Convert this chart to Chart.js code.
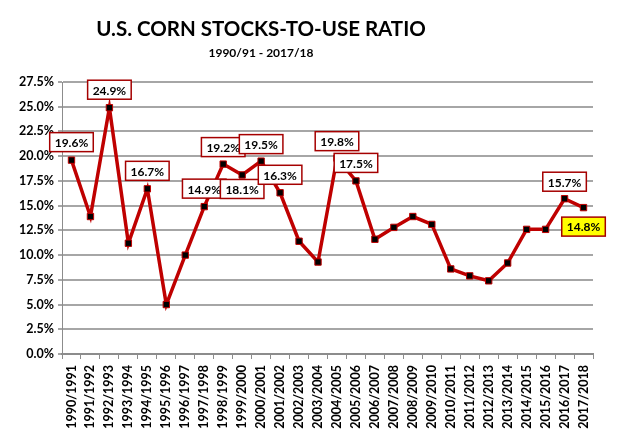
<!DOCTYPE html>
<html>
<head>
<meta charset="utf-8">
<script src="https://cdn.jsdelivr.net/npm/chart.js@4/dist/chart.umd.min.js"></script>
<style>
html,body{margin:0;padding:0;background:#fff;}
#wrap{width:617px;height:437px;position:relative;}
</style>
</head>
<body>
<div id="wrap"><canvas id="c"></canvas></div>
<script>
const categories = ["1990/1991","1991/1992","1992/1993","1993/1994","1994/1995","1995/1996","1996/1997","1997/1998","1998/1999","1999/2000","2000/2001","2001/2002","2002/2003","2003/2004","2004/2005","2005/2006","2006/2007","2007/2008","2008/2009","2009/2010","2010/2011","2011/2012","2012/2013","2013/2014","2014/2015","2015/2016","2016/2017","2017/2018"];
const stocksToUse = [19.6,13.9,24.9,11.2,16.7,5.0,10.0,14.9,19.2,18.1,19.5,16.3,11.4,9.3,19.8,17.5,11.6,12.8,13.9,13.1,8.6,7.9,7.4,9.2,12.6,12.6,15.7,14.8];
const yTicks = {min:0, max:27.5, step:2.5};
const titleText = "U.S. CORN STOCKS-TO-USE RATIO";
const subtitleText = "1990/91 - 2017/18";

// which points carry a value box (index into categories) and where the box sits
const labelled = [
  {i:0, dy:-18},{i:2, dy:-18},{i:4, dy:-18},{i:7, dy:-18},{i:8, dy:-17},
  {i:9, dy:14},{i:10, dy:-17},{i:11, dy:-18},{i:14, dy:-17},{i:15, dy:-18},
  {i:26, dy:-17},{i:27, dy:19, hi:true}
];

const FONT = "Lato, 'Open Sans', sans-serif";

const titles = {
  id:'titles',
  afterDraw(chart){
    const ctx = chart.ctx;
    ctx.save();
    ctx.fillStyle = '#000';
    ctx.textAlign = 'center';
    ctx.textBaseline = 'middle';
    ctx.font = "bold 20.5px " + FONT;
    ctx.fillText(titleText, 261, 29);
    ctx.font = "bold 12px " + FONT;
    ctx.fillText(subtitleText, 261, 53);
    ctx.restore();
  }
};

const boxLabels = {
  id:'boxLabels',
  afterDatasetsDraw(chart){
    const ctx = chart.ctx;
    const meta = chart.getDatasetMeta(0);
    ctx.save();
    ctx.font = "bold 12px " + FONT;
    ctx.textAlign = 'center';
    ctx.textBaseline = 'middle';
    labelled.forEach(l=>{
      const el = meta.data[l.i];
      const txt = stocksToUse[l.i].toFixed(1) + '%';
      const w = ctx.measureText(txt).width + 10;
      const h = 19;
      const cx = el.x, cy = el.y + l.dy;
      ctx.fillStyle = l.hi ? '#ffff00' : '#ffffff';
      ctx.fillRect(cx - w/2, cy - h/2, w, h);
      ctx.lineWidth = 1.5;
      ctx.strokeStyle = '#a50000';
      ctx.strokeRect(cx - w/2, cy - h/2, w, h);
      ctx.fillStyle = '#000';
      ctx.fillText(txt, cx, cy + 1);
    });
    ctx.restore();
  }
};

new Chart(document.getElementById('c'), {
  type:'line',
  data:{
    labels: categories,
    datasets:[{
      data: stocksToUse,
      borderColor:'#bf0000',
      borderWidth:3.5,
      tension:0,
      pointStyle:'rect',
      pointRadius:4.5,
      pointHoverRadius:4.5,
      pointBackgroundColor:'#000',
      pointBorderColor:'#bf0000',
      pointBorderWidth:1
    }]
  },
  plugins:[boxLabels, titles],
  options:{
    responsive:true,
    maintainAspectRatio:false,
    animation:false,
    layout:{padding:{left:0,right:24,top:82,bottom:0}},
    plugins:{
      legend:{display:false},
      tooltip:{enabled:false},
      title:{display:false},
      subtitle:{display:false}
    },
    scales:{
      x:{
        offset:true,
        afterFit(s){s.height = 83;},
        grid:{display:true,offset:true,drawOnChartArea:false,drawTicks:true,tickLength:5,color:'#8c8c8c',lineWidth:1},
        border:{display:true,color:'#8c8c8c',width:2},
        ticks:{autoSkip:false,maxRotation:90,minRotation:90,padding:6,color:'#000',font:{family:FONT,size:12.5,weight:'bold'}}
      },
      y:{
        min:yTicks.min,max:yTicks.max,
        afterFit(s){s.width = 62;},
        grid:{color:'#a6a6a6',lineWidth:2,tickLength:4},
        border:{display:true,color:'#8c8c8c',width:1},
        ticks:{stepSize:yTicks.step,padding:4,color:'#000',font:{family:FONT,size:12.5,weight:'bold'},callback:v=>Number(v).toFixed(1)+'%'}
      }
    }
  }
});
</script>
</body>
</html>
